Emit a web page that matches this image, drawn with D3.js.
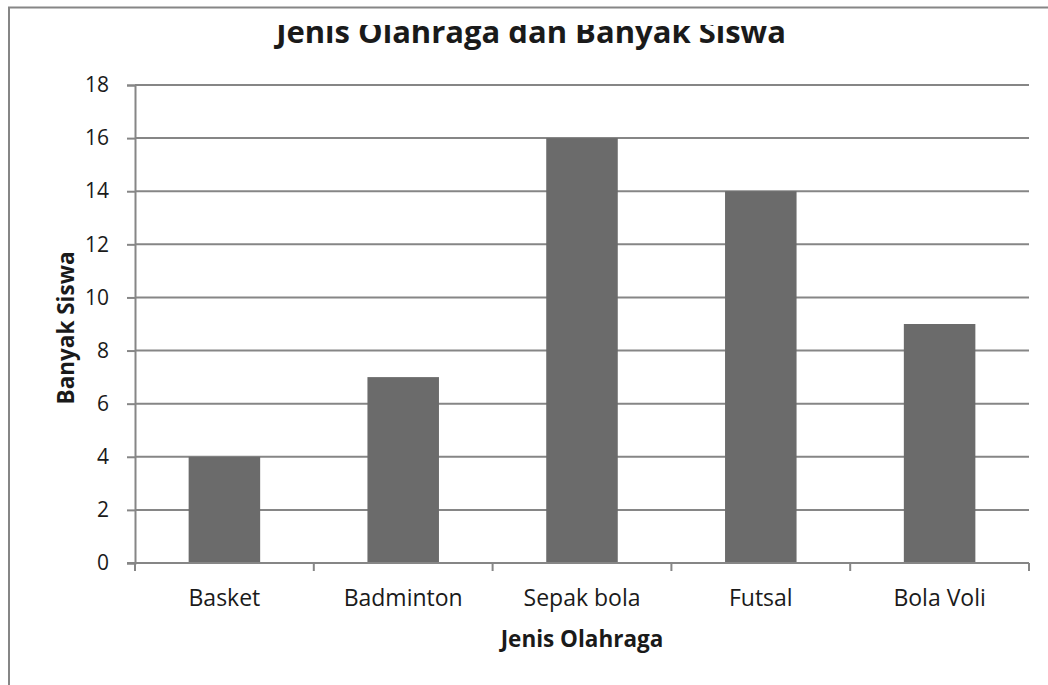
<!DOCTYPE html>
<html>
<head>
<meta charset="utf-8">
<script src="https://cdn.jsdelivr.net/npm/d3@7"></script>
<style>
  html, body { margin: 0; padding: 0; background: #fff; }
  svg { display: block; }
  text { font-family: "Open Sans", "Noto Sans", sans-serif; fill: #1a1a1a; }
</style>
</head>
<body>
<svg id="chart" width="1048" height="685"></svg>
<script>
// Data
const categories = ["Basket", "Badminton", "Sepak bola", "Futsal", "Bola Voli"];
const values = [4, 7, 16, 14, 9];
const yTicks = [0, 2, 4, 6, 8, 10, 12, 14, 16, 18];
const chartTitle = "Jenis Olahraga dan Banyak Siswa";
const xTitle = "Jenis Olahraga";
const yTitle = "Banyak Siswa";

const svg = d3.select("#chart");
const gridColor = "#868686";

// Chart area frame
svg.append("rect")
  .attr("x", 9).attr("y", 7.5)
  .attr("width", 1100).attr("height", 760)
  .attr("fill", "#fff")
  .attr("stroke", gridColor).attr("stroke-width", 2);

// Plot area
const plot = { left: 135, right: 1029, top: 85, bottom: 563 };

const x = d3.scaleBand()
  .domain(categories)
  .range([plot.left, plot.right])
  .paddingInner(0.6).paddingOuter(0.3);

const xOuter = d3.scaleBand()
  .domain(categories)
  .range([plot.left, plot.right]);

const y = d3.scaleLinear().domain([0, 18]).range([plot.bottom, plot.top]);

// Horizontal gridlines
svg.append("g")
  .selectAll("line")
  .data(yTicks.filter(t => t > 0))
  .join("line")
  .attr("x1", plot.left).attr("x2", plot.right)
  .attr("y1", d => y(d)).attr("y2", d => y(d))
  .attr("stroke", gridColor).attr("stroke-width", 2);

// Bars
svg.append("g")
  .selectAll("rect")
  .data(categories.map((c, i) => ({ c, v: values[i] })))
  .join("rect")
  .attr("x", d => x(d.c))
  .attr("width", x.bandwidth())
  .attr("y", d => y(d.v))
  .attr("height", d => y(0) - y(d.v))
  .attr("fill", "#6b6b6b");

// Y axis
const yAxis = svg.append("g")
  .attr("transform", `translate(${plot.left},0)`)
  .call(d3.axisLeft(y).tickValues(yTicks).tickSize(8).tickPadding(18));
yAxis.select(".domain").attr("stroke", gridColor).attr("stroke-width", 2);
yAxis.selectAll(".tick line").attr("stroke", gridColor).attr("stroke-width", 2);
yAxis.selectAll(".tick text")
  .attr("font-family", "'Open Sans', sans-serif")
  .attr("font-size", 21).attr("fill", "#1a1a1a");

// X axis: ticks between categories
const boundaries = categories.map(c => xOuter(c)).concat([plot.right]);
const xAxisG = svg.append("g");
xAxisG.append("line")
  .attr("x1", plot.left - 8).attr("x2", plot.right)
  .attr("y1", plot.bottom).attr("y2", plot.bottom)
  .attr("stroke", gridColor).attr("stroke-width", 2);
xAxisG.selectAll("line.tk")
  .data(boundaries)
  .join("line").attr("class", "tk")
  .attr("x1", d => d).attr("x2", d => d)
  .attr("y1", plot.bottom).attr("y2", plot.bottom + 8)
  .attr("stroke", gridColor).attr("stroke-width", 2);
xAxisG.selectAll("text")
  .data(categories)
  .join("text")
  .attr("x", d => xOuter(d) + xOuter.bandwidth() / 2)
  .attr("y", 606)
  .attr("text-anchor", "middle")
  .attr("font-size", 23)
  .text(d => d);

// Axis titles
svg.append("text")
  .attr("x", 582)
  .attr("y", 647)
  .attr("text-anchor", "middle")
  .attr("font-size", 22.5).attr("font-weight", "bold")
  .text(xTitle);

svg.append("text")
  .attr("transform", `translate(74,328) rotate(-90)`)
  .attr("text-anchor", "middle")
  .attr("font-size", 22.5).attr("font-weight", "bold")
  .text(yTitle);

// Chart title, with its upper part hidden
svg.append("clipPath").attr("id", "titleClip")
  .append("rect").attr("x", 0).attr("y", 25).attr("width", 1048).attr("height", 40);
svg.append("text")
  .attr("clip-path", "url(#titleClip)")
  .attr("x", 531)
  .attr("y", 42.5)
  .attr("text-anchor", "middle")
  .attr("font-size", 31).attr("font-weight", "bold")
  .text(chartTitle);
</script>
</body>
</html>
